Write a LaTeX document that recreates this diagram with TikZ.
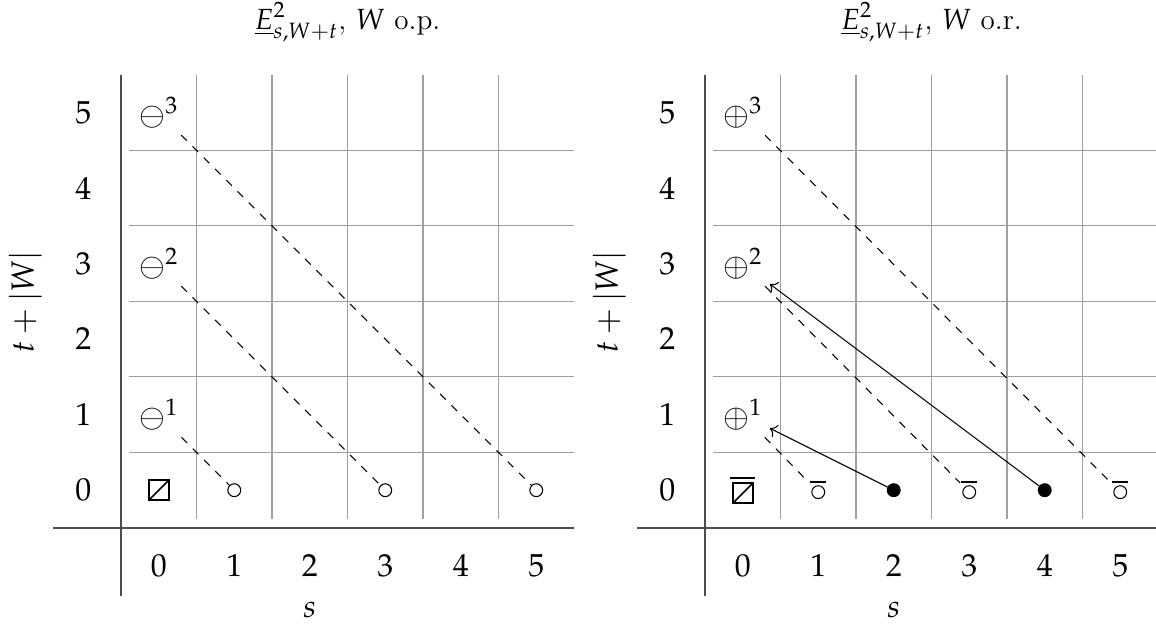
\documentclass[tikz,border=0pt]{standalone}
\usepackage{mathpazo}
\usetikzlibrary{arrows.meta,positioning,calc}
\tikzset{
  gridline/.style={gray!75,line width=0.4pt},
  axisline/.style={black!70,line width=0.5pt},
  lbl/.style={font=\large},
  ttl/.style={font=\fontsize{11}{13}\selectfont},
  gen/.style={font=\large,inner sep=2.5pt},
  dot/.style={circle,draw,inner sep=0pt,minimum size=0.17cm},
  fdot/.style={dot,fill=black},
  boxsl/.style={draw,line width=0.6pt,inner sep=0pt,minimum size=0.265cm,
    path picture={\draw[line width=0.6pt] (path picture bounding box.south west) -- (path picture bounding box.north east);}},
  diff/.style={dashed},
  ext/.style={->},
  bar/.style={line width=0.5pt}
}

\begin{document}
\begin{tikzpicture}
    \useasboundingbox (-1.603,-1.377) rectangle (13.709,6.993);

    % Left chart: grid and axes
    \foreach \i in {1,...,5} {
        \draw[gridline] (\i,0.12) -- (\i,6);
        \draw[gridline] (0.1,\i) -- (6,\i);
    }
    \draw[axisline] (0,-0.9) -- (0,6);
    \draw[axisline] (-0.9,0) -- (6,0);
    \foreach \i in {0,...,5} {
        \node[lbl] (sL\i) at (\i+0.5,-0.5) {$\i$};
        \node[lbl] (tL\i) at (-0.5,\i+0.5) {$\i$};
    }
    \node[lbl] (sL) at (2.5,-1.08) {$s$};
    \node[lbl,rotate=90] (tL) at (-1.27,3) {$t+|W|$};
    \node[ttl] (titleL) at (3,6.7) {$\underline{E}^2_{s,W+t}$, $W$ o.p.};

    % Left chart: classes
    \node[gen] (a1) at (0.5,1.5) {$\ominus^1$};
    \node[gen] (a2) at (0.5,3.5) {$\ominus^2$};
    \node[gen] (a3) at (0.5,5.5) {$\ominus^3$};
    \node[boxsl] (b0) at (0.5,0.5) {};
    \node[dot] (c1) at (1.5,0.5) {};
    \node[dot] (c3) at (3.5,0.5) {};
    \node[dot] (c5) at (5.5,0.5) {};
    \draw[diff] (a1) -- (c1);
    \draw[diff] (a2) -- (c3);
    \draw[diff] (a3) -- (c5);

    \begin{scope}[xshift=7.735cm]
        % Right chart: grid and axes
        \foreach \i in {1,...,5} {
            \draw[gridline] (\i,0.12) -- (\i,6);
            \draw[gridline] (0.1,\i) -- (6,\i);
        }
        \draw[axisline] (0,-0.9) -- (0,6);
        \draw[axisline] (-0.9,0) -- (6,0);
        \foreach \i in {0,...,5} {
            \node[lbl] (sR\i) at (\i+0.5,-0.5) {$\i$};
            \node[lbl] (tR\i) at (-0.5,\i+0.5) {$\i$};
        }
        \node[lbl] (sR) at (2.5,-1.08) {$s$};
        \node[lbl,rotate=90] (tR) at (-1.27,3) {$t+|W|$};
        \node[ttl] (titleR) at (3,6.7) {$\underline{E}^2_{s,W+t}$, $W$ o.r.};

        % Right chart: classes
        \node[gen] (p1) at (0.5,1.5) {$\oplus^1$};
        \node[gen] (p2) at (0.5,3.5) {$\oplus^2$};
        \node[gen] (p3) at (0.5,5.5) {$\oplus^3$};
        \node[boxsl] (q0) at (0.5,0.46) {};
        \node[dot] (o1) at (1.5,0.474) {};
        \node[dot] (o3) at (3.5,0.474) {};
        \node[dot] (o5) at (5.5,0.474) {};
        \node[fdot] (e2) at (2.5,0.5) {};
        \node[fdot] (e4) at (4.5,0.5) {};
        % overlines
        \draw[bar] ($(q0.center)+(-0.165,0.2)$) -- ++(0.33,0);
        \foreach \n in {o1,o3,o5}
            \draw[bar] ($(\n.center)+(-0.105,0.136)$) -- ++(0.21,0);
        \draw[diff,shorten >=0.08cm] (p1) -- (o1);
        \draw[diff,shorten >=0.08cm] (p2) -- (o3);
        \draw[diff,shorten >=0.08cm] (p3) -- (o5);
        \draw[ext] (e2) -- (p1);
        \draw[ext] (e4) -- (p2);
    \end{scope}
\end{tikzpicture}
\end{document}
